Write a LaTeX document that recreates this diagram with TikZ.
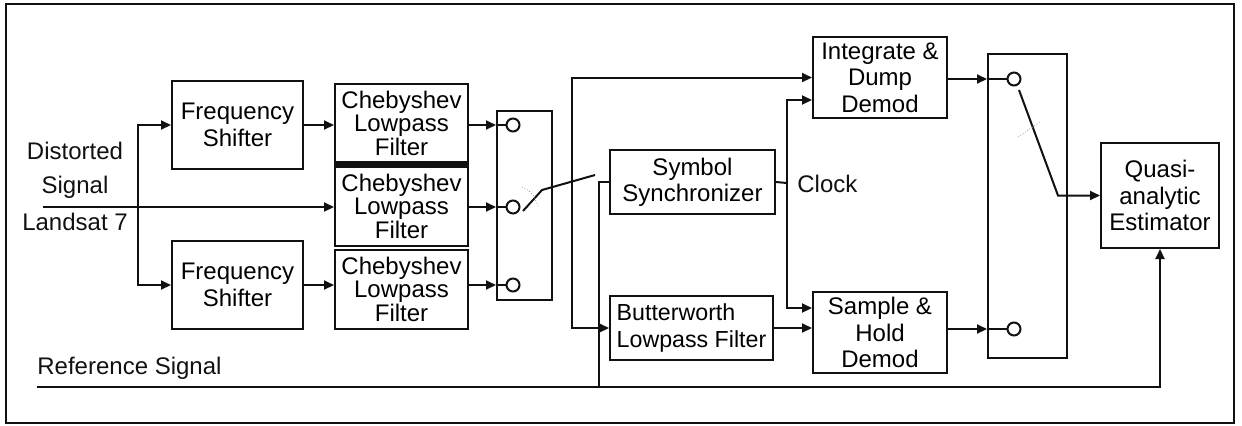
\documentclass[tikz,border=0pt]{standalone}
\usepackage{fontspec}
\setmainfont{Liberation Sans}
\usepackage{tikz}
\usetikzlibrary{arrows.meta,positioning,calc}
\definecolor{Ink}{HTML}{111111}
\definecolor{Faint}{HTML}{9A9A9A}
\tikzset{
  block/.style={draw=Ink,line width=1pt,inner sep=0pt,align=center,font=\fontsize{12}{13.2}\selectfont},
  shiftbox/.style={block,minimum width=65.5pt,minimum height=44pt},
  chebbox/.style={block,minimum width=66.5pt,minimum height=39.5pt,font=\fontsize{12}{11.75}\selectfont},
  demodbox/.style={block,minimum width=67pt,minimum height=40.5pt},
  switchbox/.style={draw=Ink,line width=1pt,inner sep=0pt},
  tap/.style={circle,draw=Ink,line width=1pt,fill=white,inner sep=0pt,minimum size=6.5pt},
  wire/.style={draw=Ink,line width=1pt},
  arrow/.style={wire,-{Triangle[length=5pt,width=4.5pt]}},
  scuff/.style={draw=Faint,line width=0.4pt,densely dotted},
  label/.style={inner sep=0pt,font=\fontsize{12}{13.2}\selectfont,text=Ink}
}
\begin{document}
\begin{tikzpicture}[x=0.5pt,y=-0.5pt]
  \useasboundingbox (0,0) rectangle (1242,425);
  \draw[wire] (6,4) rectangle (1234,423);

  % input side
  \node[label] (lblDist) at (75,151) {Distorted};
  \node[label] (lblSig) at (75,187) {Signal};
  \node[label] (lblSat) at (75,222) {Landsat 7};
  \node[label,anchor=west] (lblRef) at (37,368) {Reference Signal};

  \node[shiftbox] (shiftA) at (237.5,125) {Frequency\\Shifter};
  \node[shiftbox] (shiftB) at (237.5,285) {Frequency\\Shifter};
  \node[chebbox] (chebA) at (401.5,123) {Chebyshev\\Lowpass\\Filter};
  \node[chebbox] (chebB) at (401.5,206) {Chebyshev\\Lowpass\\Filter};
  \node[chebbox] (chebC) at (401.5,289) {Chebyshev\\Lowpass\\Filter};
  \draw[line width=2.2pt,Ink] (chebA.south west) -- (chebA.south east);

  \coordinate (in) at (43,207);
  \coordinate (split) at (138,207);
  \draw[arrow] (in) -- (in -| chebB.west);
  \draw[arrow] (split) |- (shiftA.west);
  \draw[arrow] (split) |- (shiftB.west);
  \draw[arrow] (shiftA.east) -- (shiftA.east -| chebA.west);
  \draw[arrow] (shiftB.east) -- (shiftB.east -| chebC.west);

  % first switch
  \node[switchbox,minimum width=27.5pt,minimum height=94.5pt] (swA) at (524.5,205.5) {};
  \node[tap] (tapA) at (513,125) {};
  \node[tap] (tapB) at (513,207) {};
  \node[tap] (tapC) at (513,285) {};
  \foreach \c/\t in {chebA/tapA,chebB/tapB,chebC/tapC}{
    \draw[wire] (\t -| swA.west) -- (\t.west);
    \draw[arrow] (\t -| \c.east) -- (\t -| swA.west);
  }
  \draw[wire] (523,211) -- (542,190) -- (595,175);
  \draw[scuff] (522,187) .. controls (532,192) .. (539,208);

  % demodulators
  \node[block,minimum width=82.5pt,minimum height=32pt] (sync) at (692.5,182) {Symbol\\Synchronizer};
  \node[block,minimum width=81.5pt,minimum height=32pt,align=left,font=\fontsize{11.6}{13.4}\selectfont] (butter) at (691.5,328) {Butterworth\\Lowpass Filter};
  \node[demodbox] (intg) at (880,77.5) {Integrate \&\\Dump\\Demod};
  \node[demodbox] (hold) at (880,332.5) {Sample \&\\Hold\\Demod};
  \node[label,anchor=west] (lblClk) at (797,184) {Clock};

  \coordinate (bus) at (572,181);
  \draw[arrow] (bus) |- (intg.west);
  \draw[arrow] (bus) |- (butter.west);
  \coordinate (refTap) at (599,387);
  \draw[wire] (refTap) |- (sync.west);
  \coordinate (clk) at (787,183);
  \draw[wire] (sync.east) -- (clk);
  \draw[arrow] (clk) |- ([yshift=-11.25pt]intg.west);
  \draw[arrow] (clk) |- ([yshift=12.25pt]hold.west);
  \draw[arrow] (butter.east) -- (butter.east -| hold.west);

  % second switch and estimator
  \node[switchbox,minimum width=39.5pt,minimum height=152pt] (swB) at (1027.5,206) {};
  \node[tap] (outA) at (1014,79) {};
  \node[tap] (outB) at (1014,329) {};
  \draw[wire] (outA -| swB.west) -- (outA.west);
  \draw[arrow] (outA -| intg.east) -- (outA -| swB.west);
  \draw[wire] (outB -| swB.west) -- (outB.west);
  \draw[arrow] (outB -| hold.east) -- (outB -| swB.west);

  \node[block,minimum width=59pt,minimum height=52.5pt] (est) at (1160,195.5) {Quasi-\\analytic\\Estimator};
  \draw[arrow] (1019,90) -- (1058,195.5) -- (est.west);
  \draw[scuff] (1018,137) -- (1040,122);

  \coordinate (refIn) at (37,387);
  \draw[arrow] (refIn) -| (est.south);
\end{tikzpicture}
\end{document}
